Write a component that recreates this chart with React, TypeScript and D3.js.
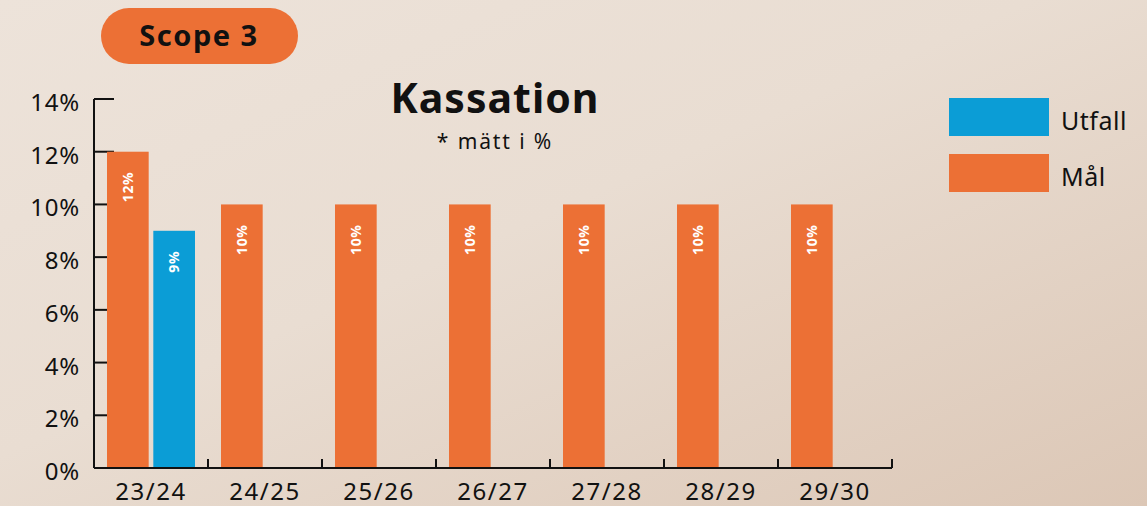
import { useMemo } from 'react'
import * as d3 from 'd3'

const categories = ['23/24', '24/25', '25/26', '26/27', '27/28', '28/29', '29/30']
const malValues = [12, 10, 10, 10, 10, 10, 10]
const utfallValues: (number | null)[] = [9, null, null, null, null, null, null]
const yTicks = [0, 2, 4, 6, 8, 10, 12, 14]
const seriesKeys = ['Mål', 'Utfall']
const legendItems = [
  { label: 'Utfall', color: '#0B9DD6' },
  { label: 'Mål', color: '#EC7035' },
]

const ORANGE = '#EC7035'
const BLUE = '#0B9DD6'
const FONT = '"Noto Sans", sans-serif'

export default function App() {
  const width = 1147
  const height = 506
  const margin = { top: 99, left: 94 }
  const innerW = 892 - margin.left
  const innerH = 468 - margin.top

  const x = useMemo(
    () => d3.scaleBand<string>().domain(categories).range([0, innerW]),
    [innerW]
  )
  // grouped slots inside each year band
  const x1 = useMemo(
    () =>
      d3
        .scaleBand<string>()
        .domain(seriesKeys)
        .range([13, 101])
        .paddingInner(0.1),
    []
  )
  const y = useMemo(
    () => d3.scaleLinear().domain([0, 14]).range([innerH, 0]),
    [innerH]
  )

  const bars: { key: string; cat: string; value: number; color: string }[] = []
  categories.forEach((c, i) => {
    bars.push({ key: 'Mål', cat: c, value: malValues[i], color: ORANGE })
    const u = utfallValues[i]
    if (u !== null) bars.push({ key: 'Utfall', cat: c, value: u, color: BLUE })
  })

  return (
    <svg
      width={width}
      height={height}
      style={{ position: 'fixed', left: 0, top: 0 }}
      fontFamily={FONT}
    >
      <defs>
        <linearGradient id="bg" x1="0" y1="0" x2="1" y2="1">
          <stop offset="0%" stopColor="#EDE3DA" />
          <stop offset="45%" stopColor="#E9DDD2" />
          <stop offset="100%" stopColor="#DCC7B6" />
        </linearGradient>
      </defs>
      <rect width={width} height={height} fill="url(#bg)" />

      {/* badge */}
      <rect x={101} y={8} width={197} height={56} rx={28} fill={ORANGE} />
      <text
        x={199}
        y={46}
        textAnchor="middle"
        fontSize={29}
        fontWeight={700}
        letterSpacing={1.5}
        fill="#111"
      >
        Scope 3
      </text>

      {/* title */}
      <text
        x={495}
        y={113}
        textAnchor="middle"
        fontSize={41}
        fontWeight={700}
        letterSpacing={1}
        fill="#111"
      >
        Kassation
      </text>
      <text x={495} y={149} textAnchor="middle" fontSize={21} letterSpacing={1.9} fill="#111">
        * mätt i %
      </text>

      <g transform={`translate(${margin.left},${margin.top})`}>
        {/* y axis */}
        <line x1={0} x2={0} y1={0} y2={innerH} stroke="#111" strokeWidth={2} />
        {yTicks.map((t) => (
          <g key={t} transform={`translate(0,${y(t)})`}>
            <line x1={0} x2={20} stroke="#111" strokeWidth={2} />
            <text x={-14} dy={12} textAnchor="end" fontSize={24} letterSpacing={0.8} fill="#111">
              {t}%
            </text>
          </g>
        ))}

        {/* bars */}
        {bars.map((b) => {
          const bx = (x(b.cat) ?? 0) + (x1(b.key) ?? 0)
          const bw = x1.bandwidth()
          const top = y(b.value)
          return (
            <g key={b.cat + b.key}>
              <rect x={bx} y={top} width={bw} height={innerH - top} fill={b.color} />
              <text
                transform={`translate(${bx + bw / 2 + 5},${top + 20}) rotate(-90)`}
                textAnchor="end"
                fontSize={14}
                fontWeight={700}
                letterSpacing={0.6}
                fill="#fff"
              >
                {b.value}%
              </text>
            </g>
          )
        })}

        {/* x axis */}
        <line x1={0} x2={innerW} y1={innerH} y2={innerH} stroke="#111" strokeWidth={2} />
        {categories.map((c) => (
          <g key={c}>
            <line
              x1={(x(c) ?? 0) + x.bandwidth()}
              x2={(x(c) ?? 0) + x.bandwidth()}
              y1={innerH - 9}
              y2={innerH}
              stroke="#111"
              strokeWidth={2}
            />
            <text
              x={(x(c) ?? 0) + x.bandwidth() / 2}
              y={innerH + 32}
              textAnchor="middle"
              fontSize={24}
              letterSpacing={1.5}
              fill="#111"
            >
              {c}
            </text>
          </g>
        ))}
      </g>

      {/* legend */}
      {legendItems.map((d, i) => (
        <g key={d.label} transform={`translate(949,${98 + i * 56})`}>
          <rect width={100} height={38} fill={d.color} />
          <text x={112} y={32} fontSize={25} letterSpacing={0.5} fill="#111">
            {d.label}
          </text>
        </g>
      ))}
    </svg>
  )
}
